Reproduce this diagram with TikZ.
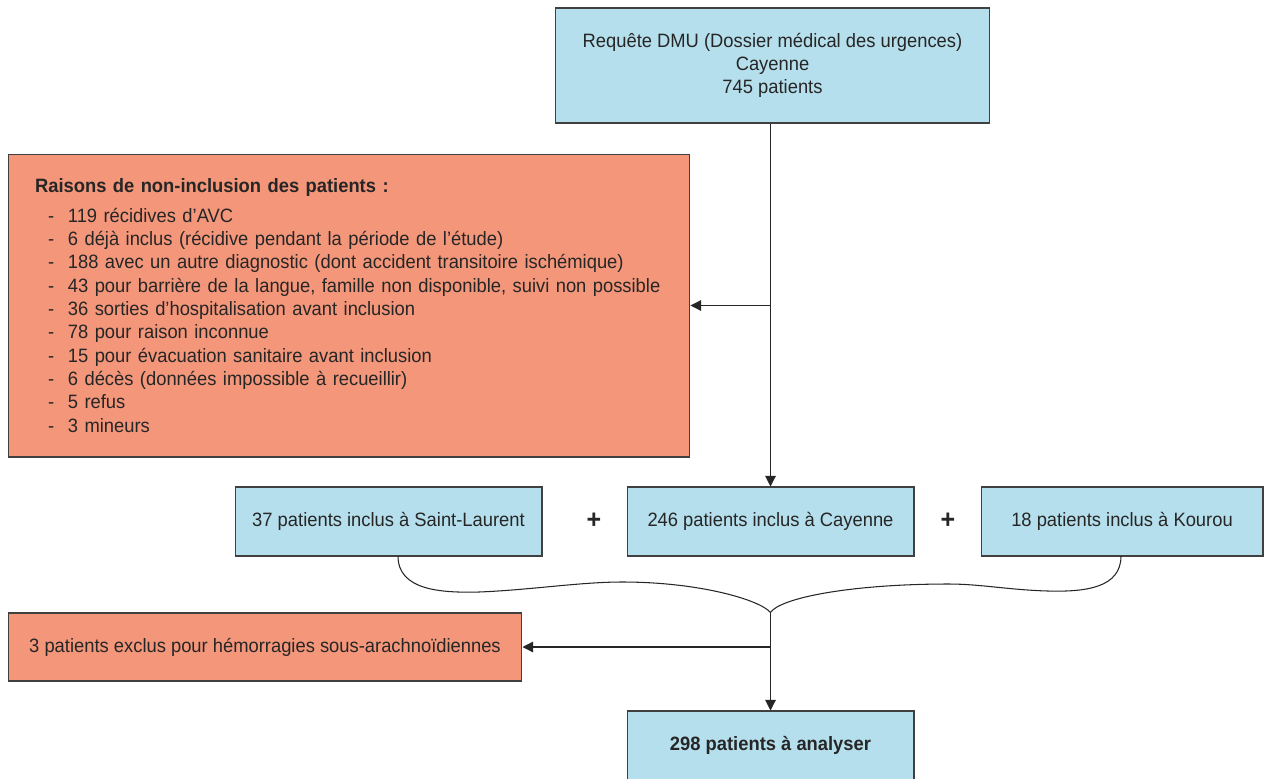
\documentclass[tikz,border=0pt]{standalone}
\usepackage{fontspec}
\setmainfont[FakeStretch=0.95]{Liberation Sans}
\usetikzlibrary{arrows.meta}

\definecolor{boxblue}{RGB}{181,223,236}
\definecolor{boxred}{RGB}{244,150,122}

\tikzset{
	box/.style={draw=black!75, line width=0.6pt, inner sep=0pt, align=center,
		font=\fontsize{11}{13.3}\selectfont, text=black!85},
	bluebox/.style={box, fill=boxblue},
	redbox/.style={box, fill=boxred},
	arr/.style={-{Triangle[length=6pt,width=6pt]}, line width=0.6pt, black!85},
}

\newcommand{\itm}[1]{\hspace*{7.4pt}\makebox[11.3pt][l]{-}#1\\}

\begin{document}
\begin{tikzpicture}[x=0.02cm, y=-0.02cm]
			\useasboundingbox (0,0) rectangle (1264,778);

			% Query
			\node[bluebox, minimum width=8.7cm, minimum height=2.3cm] (dmu) at (772.5,65.5)
				{Requête DMU (Dossier médical des urgences)\\Cayenne\\745 patients};

			% Reasons for non-inclusion
			\node[redbox, minimum width=13.64cm, minimum height=6.06cm, text width=12.56cm, align=left] (raisons) at (349,305.5)
				{\textbf{Raisons de non-inclusion des patients :}\\[3.5pt]
				\itm{119 récidives d’AVC}
				\itm{6 déjà inclus (récidive pendant la période de l’étude)}
				\itm{188 avec un autre diagnostic (dont accident transitoire ischémique)}
				\itm{43 pour barrière de la langue, famille non disponible, suivi non possible}
				\itm{36 sorties d’hospitalisation avant inclusion}
				\itm{78 pour raison inconnue}
				\itm{15 pour évacuation sanitaire avant inclusion}
				\itm{6 décès (données impossible à recueillir)}
				\itm{5 refus}
				\hspace*{7.4pt}\makebox[11.3pt][l]{-}3 mineurs};

			% Included patients
			\node[bluebox, minimum width=6.14cm, minimum height=1.38cm] (stl) at (388.5,521.5) {37 patients inclus à Saint-Laurent};
			\node[bluebox, minimum width=5.74cm, minimum height=1.38cm] (cay) at (770.5,521.5) {246 patients inclus à Cayenne};
			\node[bluebox, minimum width=5.64cm, minimum height=1.38cm] (kou) at (1122,521.5) {18 patients inclus à Kourou};
			\foreach \x/\n in {594/plusa, 948/plusb}
				\node[font=\fontsize{15}{15}\selectfont\bfseries, text=black!85] (\n) at (\x,521) {+};

			% Excluded and final
			\node[redbox, minimum width=10.28cm, minimum height=1.36cm] (exclus) at (265,647) {3 patients exclus pour hémorragies sous-arachnoïdiennes};
			\node[bluebox, minimum width=5.74cm, minimum height=1.38cm, font=\fontsize{11}{13.3}\selectfont\bfseries] (final) at (770.5,745.5) {298 patients à analyser};

			% Connectors
			\draw[arr] (cay.north |- dmu.south) -- (cay.north);
			\draw[arr] (raisons.east -| cay.north) -- (raisons.east);
			\coordinate (join) at (final.north |- exclus.north);
			\coordinate (bl) at (398,556);
			\coordinate (br) at (1121,556);
			\draw[line width=0.6pt, black!85] (bl) .. controls (398,590) and (440,593) .. (479,592)
				.. controls (530,590) and (580,582) .. (622,582)
				.. controls (700,582) and (760,600) .. (join);
			\draw[line width=0.6pt, black!85] (br) .. controls (1121,588) and (1085,592) .. (1048,591)
				.. controls (1010,590) and (980,584) .. (949,584)
				.. controls (850,584) and (780,598) .. (join);
			\draw[arr] (join) -- (final.north);
			\draw[arr] (exclus.east -| final.north) -- (exclus.east);
		\end{tikzpicture}
\end{document}
